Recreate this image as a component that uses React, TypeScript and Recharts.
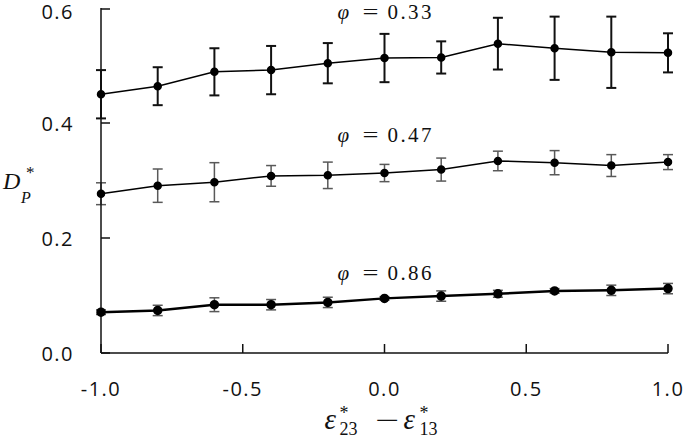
import { LineChart, Line, XAxis, YAxis, ErrorBar, ReferenceDot } from 'recharts';

// strain difference values along x
const xs = [-1.0, -0.8, -0.6, -0.4, -0.2, 0.0, 0.2, 0.4, 0.6, 0.8, 1.0];

// phi = 0.33
const top = [0.45, 0.464, 0.489, 0.492, 0.504, 0.513, 0.514, 0.538, 0.53, 0.523, 0.522];
const topErr = [0.042, 0.033, 0.041, 0.042, 0.035, 0.042, 0.028, 0.045, 0.055, 0.062, 0.034];

// phi = 0.47
const mid = [0.277, 0.291, 0.297, 0.308, 0.309, 0.313, 0.319, 0.334, 0.331, 0.326, 0.332];
const midErr = [0.019, 0.029, 0.034, 0.018, 0.023, 0.015, 0.02, 0.017, 0.021, 0.019, 0.013];

// phi = 0.86
const low = [0.071, 0.074, 0.084, 0.084, 0.088, 0.095, 0.099, 0.103, 0.108, 0.109, 0.112];
const lowErr = [0.004, 0.009, 0.012, 0.009, 0.009, 0.003, 0.009, 0.006, 0.004, 0.009, 0.009];

const xTicks = [-1.0, -0.5, 0.0, 0.5, 1.0];
const yTicks = [0.0, 0.2, 0.4, 0.6];

const seriesLabels = [
  { x: 0.0, y: 0.581, phi: '0.33' },
  { x: 0.0, y: 0.3675, phi: '0.47' },
  { x: 0.0, y: 0.127, phi: '0.86' },
];

const data = xs.map((x, i) => ({
  x,
  top: top[i],
  topErr: topErr[i],
  mid: mid[i],
  midErr: midErr[i],
  low: low[i],
  lowErr: lowErr[i],
}));

const tickFont = { fontFamily: '"Open Sans", sans-serif', fontSize: 20, letterSpacing: 1.5, fill: '#111' };
const serif = '"Liberation Serif", "DejaVu Serif", serif';

const YTick = (props: any) => {
  const { x, y, payload } = props;
  return (
    <g>
      <line x1={x} x2={x + 9} y1={y} y2={y} stroke="#111" strokeWidth={1.5} />
      <text x={x - 27} y={Math.max(y, 11)} textAnchor="end" dominantBaseline="central" {...tickFont}>
        {payload.value.toFixed(1)}
      </text>
    </g>
  );
};

const XTick = (props: any) => {
  const { x, y, payload } = props;
  return (
    <g>
      <line x1={x} x2={x} y1={y} y2={y - 9} stroke="#111" strokeWidth={1.5} />
      <text x={x} y={y + 35} textAnchor="middle" dominantBaseline="central" {...tickFont}>
        {payload.value.toFixed(1)}
      </text>
    </g>
  );
};

const XTitle = (props: any) => {
  const { viewBox } = props;
  const cx = viewBox.x + viewBox.width / 2;
  const base = viewBox.y + 76;
  return (
    <g fill="#111" fontFamily={serif}>
      <text x={cx - 60} y={base} fontSize={29} fontStyle="italic">ε</text>
      <text x={cx - 45} y={base - 10} fontSize={18}>*</text>
      <text x={cx - 45} y={base + 6} fontSize={18}>23</text>
      <text x={cx - 9} y={base} fontSize={26} textLength={24} lengthAdjust="spacingAndGlyphs">−</text>
      <text x={cx + 19} y={base} fontSize={29} fontStyle="italic">ε</text>
      <text x={cx + 35} y={base - 10} fontSize={18}>*</text>
      <text x={cx + 35} y={base + 6} fontSize={18}>13</text>
    </g>
  );
};

const YTitle = (props: any) => {
  const { viewBox } = props;
  const cy = viewBox.y + viewBox.height / 2;
  return (
    <g fill="#111" fontFamily={serif}>
      <text x={3} y={cy + 8} fontSize={24} fontStyle="italic">D</text>
      <text x={21} y={cy + 22} fontSize={16} fontStyle="italic">P</text>
      <text x={26} y={cy - 3} fontSize={17}>*</text>
    </g>
  );
};

const PhiLabel = (props: any) => {
  const { cx, cy, phi } = props;
  return (
    <g fill="#111" fontFamily={serif} fontSize={21}>
      <text x={cx - 47} y={cy} fontStyle="italic">φ</text>
      <text x={cx - 22} y={cy} textLength={16} lengthAdjust="spacingAndGlyphs">=</text>
      <text x={cx + 3} y={cy} textLength={45} letterSpacing={1}>{phi}</text>
    </g>
  );
};

export default function App() {
  return (
    <div style={{ position: 'absolute', left: 0, top: 0, background: '#fff' }}>
      <LineChart width={685} height={437} data={data} margin={{ top: 8, right: 17, bottom: 24, left: 41 }}>
        <XAxis
          dataKey="x"
          type="number"
          domain={[-1, 1]}
          ticks={xTicks}
          height={60}
          tickSize={0}
          tickMargin={0}
          tick={<XTick />}
          axisLine={{ stroke: '#111', strokeWidth: 1.5 }}
          label={{ content: <XTitle /> }}
        />
        <YAxis
          type="number"
          domain={[0, 0.6]}
          ticks={yTicks}
          width={60}
          tickSize={0}
          tickMargin={0}
          tick={<YTick />}
          axisLine={{ stroke: '#111', strokeWidth: 1.5 }}
          label={{ content: <YTitle /> }}
        />
        <Line dataKey="top" stroke="#000" strokeWidth={1.5} dot={{ r: 3.5, fill: '#000', stroke: '#000' }} isAnimationActive={false}>
          <ErrorBar dataKey="topErr" direction="y" width={5} stroke="#111" strokeWidth={2} isAnimationActive={false} />
        </Line>
        <Line dataKey="mid" stroke="#000" strokeWidth={1.5} dot={{ r: 3.5, fill: '#000', stroke: '#000' }} isAnimationActive={false}>
          <ErrorBar dataKey="midErr" direction="y" width={5} stroke="#595959" strokeWidth={1.5} isAnimationActive={false} />
        </Line>
        <Line dataKey="low" stroke="#000" strokeWidth={2.5} dot={{ r: 3.5, fill: '#000', stroke: '#000' }} isAnimationActive={false}>
          <ErrorBar dataKey="lowErr" direction="y" width={5} stroke="#595959" strokeWidth={1.5} isAnimationActive={false} />
        </Line>
        {seriesLabels.map((l) => (
          <ReferenceDot
            key={l.phi}
            x={l.x}
            y={l.y}
            r={0}
            shape={(p: any) => <PhiLabel cx={p.cx} cy={p.cy} phi={l.phi} />}
          />
        ))}
      </LineChart>
    </div>
  );
}
